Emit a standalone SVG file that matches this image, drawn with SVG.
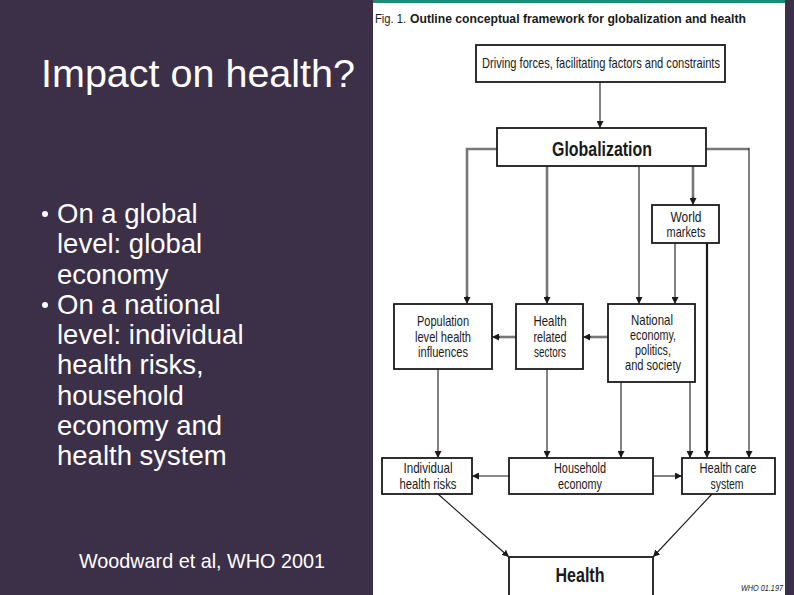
<svg xmlns="http://www.w3.org/2000/svg" width="794" height="595" viewBox="0 0 794 595">
<defs>
<style>
.bg{fill:#3c3048}
.sl{fill:#ffffff;font-family:"Liberation Sans",Arial,sans-serif}
.box{fill:#ffffff;stroke:#1a1a1a;stroke-width:1.8}
.t{font-family:"Liberation Sans",Arial,sans-serif;font-size:14.5px;fill:#1a1a1a;text-anchor:middle}
.tb{font-family:"Liberation Sans",Arial,sans-serif;font-size:20px;font-weight:bold;fill:#1a1a1a;text-anchor:middle}
.thin{fill:none;stroke:#1a1a1a;stroke-width:1.1}
.gray{fill:none;stroke:#777777;stroke-width:2.6}
.dark{fill:none;stroke:#1a1a1a;stroke-width:2.2}
</style>
<marker id="ah" viewBox="0 0 10 10" refX="10" refY="5" markerWidth="7" markerHeight="7" markerUnits="userSpaceOnUse" orient="auto">
<path d="M0,0 L10,5 L0,10 z" fill="#1a1a1a"/>
</marker>
</defs>
<rect class="bg" x="0" y="0" width="794" height="595"/>
<rect x="373" y="0" width="412" height="595" fill="#ffffff"/>
<rect x="373" y="0" width="412" height="3" fill="#1f8a78"/>

<g id="slide-text">
<text class="sl" x="41" y="87" font-size="39.5">Impact on health?</text>
<circle cx="45" cy="214" r="3" fill="#ffffff"/>
<text class="sl" font-size="27.5">
<tspan x="57" y="223">On a global</tspan>
<tspan x="57" y="253">level: global</tspan>
<tspan x="57" y="284">economy</tspan>
</text>
<circle cx="45" cy="305" r="3" fill="#ffffff"/>
<text class="sl" font-size="27.5">
<tspan x="57" y="314">On a national</tspan>
<tspan x="57" y="344">level: individual</tspan>
<tspan x="57" y="374">health risks,</tspan>
<tspan x="57" y="405">household</tspan>
<tspan x="57" y="435">economy and</tspan>
<tspan x="57" y="465">health system</tspan>
</text>
<text class="sl" x="79" y="568" font-size="19.8">Woodward et al, WHO 2001</text>
</g>

<g id="figure-title">
<text x="375" y="23" font-family="'Liberation Sans',Arial,sans-serif" font-size="12.5" fill="#1a1a1a" textLength="31" lengthAdjust="spacingAndGlyphs">Fig. 1.</text>
<text x="410" y="23" font-family="'Liberation Sans',Arial,sans-serif" font-size="13" font-weight="bold" fill="#1a1a1a" textLength="336" lengthAdjust="spacingAndGlyphs">Outline conceptual framework for globalization and health</text>
</g>

<g id="connectors">
<line class="thin" x1="600" y1="82" x2="600" y2="128" marker-end="url(#ah)"/>
<polyline class="gray" points="497,149 467,149 467,297"/>
<line class="thin" x1="467" y1="296" x2="467" y2="304" marker-end="url(#ah)"/>
<line class="gray" x1="547" y1="166" x2="547" y2="297"/>
<line class="thin" x1="547" y1="296" x2="547" y2="304" marker-end="url(#ah)"/>
<line class="thin" x1="639" y1="166" x2="639" y2="304" marker-end="url(#ah)"/>
<line class="gray" x1="693" y1="166" x2="693" y2="198"/>
<line class="thin" x1="693" y1="197" x2="693" y2="205" marker-end="url(#ah)"/>
<polyline class="gray" points="706,149 749,149"/>
<line class="thin" x1="749" y1="148" x2="749" y2="458" marker-end="url(#ah)"/>
<line class="thin" x1="675" y1="243" x2="675" y2="304" marker-end="url(#ah)"/>
<line class="dark" x1="707" y1="243" x2="707" y2="452"/>
<line class="thin" x1="707" y1="450" x2="707" y2="458" marker-end="url(#ah)"/>
<line class="gray" x1="608" y1="337" x2="590" y2="337"/>
<line class="thin" x1="591" y1="337" x2="583" y2="337" marker-end="url(#ah)"/>
<line class="gray" x1="516" y1="337" x2="499" y2="337"/>
<line class="thin" x1="500" y1="337" x2="492" y2="337" marker-end="url(#ah)"/>
<line class="thin" x1="438" y1="369" x2="438" y2="458" marker-end="url(#ah)"/>
<line class="thin" x1="547" y1="369" x2="547" y2="458" marker-end="url(#ah)"/>
<line class="thin" x1="621" y1="382" x2="621" y2="458" marker-end="url(#ah)"/>
<line class="thin" x1="690" y1="382" x2="690" y2="458" marker-end="url(#ah)"/>
<line class="thin" x1="509" y1="476" x2="472" y2="476" marker-end="url(#ah)"/>
<line class="thin" x1="653" y1="476" x2="682" y2="476" marker-end="url(#ah)"/>
<line class="thin" x1="438" y1="494" x2="509" y2="557" marker-end="url(#ah)"/>
<line class="thin" x1="712" y1="494" x2="653" y2="557" marker-end="url(#ah)"/>
</g>

<g id="driving">
<rect class="box" x="476" y="45" width="249" height="37" stroke-width="1.2"/>
<text class="t" x="601" y="68" textLength="238" lengthAdjust="spacingAndGlyphs">Driving forces, facilitating factors and constraints</text>
</g>
<g id="globalization">
<rect class="box" x="497" y="128" width="209" height="38"/>
<text class="tb" x="602" y="156" textLength="100" lengthAdjust="spacingAndGlyphs">Globalization</text>
</g>
<g id="world-markets">
<rect class="box" x="652" y="205" width="67" height="38"/>
<text class="t" x="686" y="222" textLength="31" lengthAdjust="spacingAndGlyphs">World</text>
<text class="t" x="686" y="237" textLength="39" lengthAdjust="spacingAndGlyphs">markets</text>
</g>
<g id="population">
<rect class="box" x="394" y="304" width="98" height="65"/>
<text class="t" x="443" y="326" textLength="52" lengthAdjust="spacingAndGlyphs">Population</text>
<text class="t" x="443" y="342" textLength="56" lengthAdjust="spacingAndGlyphs">level health</text>
<text class="t" x="443" y="357" textLength="50" lengthAdjust="spacingAndGlyphs">influences</text>
</g>
<g id="health-related">
<rect class="box" x="516" y="304" width="67" height="65"/>
<text class="t" x="550" y="326" textLength="33" lengthAdjust="spacingAndGlyphs">Health</text>
<text class="t" x="550" y="342" textLength="33" lengthAdjust="spacingAndGlyphs">related</text>
<text class="t" x="550" y="357" textLength="32" lengthAdjust="spacingAndGlyphs">sectors</text>
</g>
<g id="national">
<rect class="box" x="608" y="304" width="87" height="78"/>
<text class="t" x="652" y="325" textLength="42" lengthAdjust="spacingAndGlyphs">National</text>
<text class="t" x="653" y="340" textLength="46" lengthAdjust="spacingAndGlyphs">economy,</text>
<text class="t" x="653" y="355" textLength="36" lengthAdjust="spacingAndGlyphs">politics,</text>
<text class="t" x="653" y="370" textLength="56" lengthAdjust="spacingAndGlyphs">and society</text>
</g>
<g id="individual">
<rect class="box" x="382" y="458" width="90" height="36"/>
<text class="t" x="428" y="473" textLength="49" lengthAdjust="spacingAndGlyphs">Individual</text>
<text class="t" x="428" y="489" textLength="57" lengthAdjust="spacingAndGlyphs">health risks</text>
</g>
<g id="household">
<rect class="box" x="509" y="458" width="144" height="36"/>
<text class="t" x="580" y="473" textLength="52" lengthAdjust="spacingAndGlyphs">Household</text>
<text class="t" x="580" y="489" textLength="44" lengthAdjust="spacingAndGlyphs">economy</text>
</g>
<g id="health-care">
<rect class="box" x="682" y="458" width="93" height="36"/>
<text class="t" x="728" y="473" textLength="57" lengthAdjust="spacingAndGlyphs">Health care</text>
<text class="t" x="727" y="489" textLength="33" lengthAdjust="spacingAndGlyphs">system</text>
</g>
<g id="health">
<rect class="box" x="509" y="557" width="144" height="40"/>
<text class="tb" x="580" y="582" textLength="49" lengthAdjust="spacingAndGlyphs">Health</text>
</g>
<text x="741" y="591" font-family="'Liberation Sans',Arial,sans-serif" font-size="9" font-style="italic" fill="#1a1a1a" textLength="42" lengthAdjust="spacingAndGlyphs">WHO 01.197</text>
<rect class="bg" x="785" y="0" width="9" height="595"/>
</svg>
